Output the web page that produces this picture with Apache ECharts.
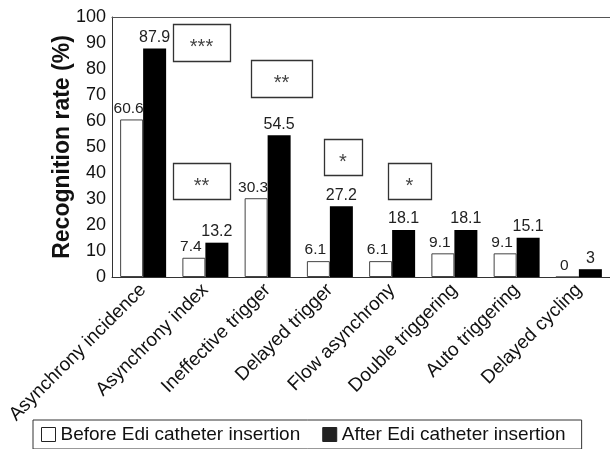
<!DOCTYPE html>
<html>
<head>
<meta charset="utf-8">
<script src="https://cdn.jsdelivr.net/npm/echarts@6/dist/echarts.min.js"></script>
<style>
  html, body { margin: 0; padding: 0; background: #fff; }
  #chart { width: 610px; height: 449px; }
</style>
</head>
<body>
<div id="chart"></div>
<script>
// categories and values
var categories = ['Asynchrony incidence', 'Asynchrony index', 'Ineffective trigger', 'Delayed trigger',
    'Flow asynchrony', 'Double triggering', 'Auto triggering', 'Delayed cycling'];
var beforeEdi = [60.6, 7.4, 30.3, 6.1, 6.1, 9.1, 9.1, 0];
var afterEdi = [87.9, 13.2, 54.5, 27.2, 18.1, 18.1, 15.1, 3];
var seriesNames = ['Before Edi catheter insertion', 'After Edi catheter insertion'];

// significance boxes (pixel boxes drawn over the plot)
var marks = [
    {text: '***', x: 173, y: 24, w: 57, h: 37},
    {text: '**', x: 251, y: 60, w: 61, h: 37},
    {text: '**', x: 173, y: 163, w: 57, h: 36},
    {text: '*', x: 324, y: 139, w: 38, h: 36},
    {text: '*', x: 388, y: 163, w: 43, h: 36}
];

var font = 'Liberation Sans, Arial, sans-serif';
var chart = echarts.init(document.getElementById('chart'));

var graphics = [];
marks.forEach(function (m) {
    graphics.push({
        type: 'rect',
        shape: {x: m.x + 0.5, y: m.y + 0.5, width: m.w, height: m.h},
        style: {fill: '#fff', stroke: '#333', lineWidth: 1.3},
        z: 10
    });
    graphics.push({
        type: 'text',
        x: m.x + m.w / 2,
        y: m.y + m.h / 2 + 5,
        style: {text: m.text, font: '20px ' + font, fill: '#444', align: 'center', verticalAlign: 'middle'},
        z: 11
    });
});

var option = {
    animation: false,
    textStyle: {fontFamily: font},
    grid: {left: 112, top: 17, bottom: 172, right: -5, containLabel: false},
    legend: {
        left: 33,
        top: 420,
        padding: [5, 16, 5, 8],
        itemGap: 22,
        itemWidth: 14,
        itemHeight: 14,
        borderColor: '#333',
        borderWidth: 1,
        textStyle: {fontSize: 19, color: '#111', fontFamily: font},
        data: [
            {name: seriesNames[0], icon: 'rect', itemStyle: {color: '#fff', borderColor: '#222', borderWidth: 1}},
            {name: seriesNames[1], icon: 'rect', itemStyle: {color: '#222', borderColor: '#222', borderWidth: 1}}
        ]
    },
    xAxis: [
        {
            type: 'category',
            data: categories,
            axisLine: {lineStyle: {color: '#333', width: 1}},
            axisTick: {show: false},
            axisLabel: {
                rotate: 45,
                interval: 0,
                margin: 10,
                fontSize: 19,
                color: '#111',
                fontFamily: font
            }
        },
        {
            type: 'category',
            position: 'top',
            data: categories,
            axisLine: {lineStyle: {color: '#555', width: 1}},
            axisTick: {show: false},
            axisLabel: {show: false}
        }
    ],
    yAxis: {
        type: 'value',
        min: 0,
        max: 100,
        interval: 10,
        name: 'Recognition rate (%)',
        nameLocation: 'middle',
        nameGap: 38,
        nameMoveOverlap: false,
        nameTextStyle: {fontSize: 23, fontWeight: 'bold', color: '#111', fontFamily: font},
        axisLine: {show: true, lineStyle: {color: '#333', width: 1}},
        axisTick: {show: false},
        splitLine: {show: false},
        axisLabel: {fontSize: 18, color: '#111', margin: 6, fontFamily: font}
    },
    series: [
        {
            name: seriesNames[0],
            type: 'bar',
            z: 3,
            data: beforeEdi,
            barWidth: 23,
            barGap: '0%',
            itemStyle: {color: '#fff', borderColor: '#444', borderWidth: 1},
            label: {show: true, position: 'top', distance: 3, offset: [-3, 0], fontSize: 15.5, color: '#222', fontFamily: font}
        },
        {
            name: seriesNames[1],
            type: 'bar',
            data: afterEdi,
            barWidth: 23,
            itemStyle: {color: '#000'},
            label: {show: true, position: 'top', distance: 3, fontSize: 16, color: '#222', fontFamily: font}
        }
    ],
    graphic: graphics
};

chart.setOption(option);
</script>
</body>
</html>
